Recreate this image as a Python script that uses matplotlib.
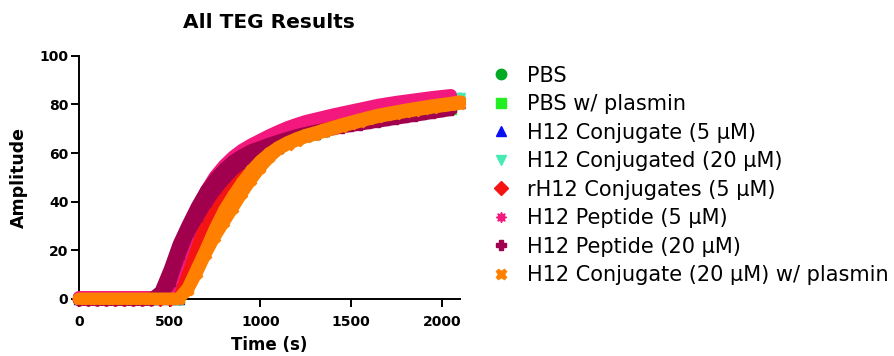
import numpy as np
import matplotlib.pyplot as plt
from matplotlib.lines import Line2D

plt.rcParams['font.family'] = ['DejaVu Sans']

# time points (s), one reading every 50 s
time_s = np.arange(0, 2101, 50)
nan = np.nan

# amplitude per reading (nan = run already stopped); two runs for the wide bands
pbs = [0] * 12 + [5.5, 14.5, 22.5, 30.5, 37.5, 43, 47.5, 51.5, 55.5,
                  59, 62, 64, 65.6, 67, 68, 69.2, 70.3, 71.4, 72.4,
                  73.4, 74.4, 75.3, 76, 76.7, 77.4, 78, 78.4, 78.6, 78.7, 78.6, nan]
pbs_plasmin = [0] * 12 + [5, 14, 22, 30, 37, 42.5, 47, 51, 55,
                          59, 62, 64, 65.6, 67, 68, 69.2, 70.3, 71.4, 72.4,
                          73.4, 74.4, 75.3, 76, 76.7, 77.4, 78, 78.3, 78.4, 78.4, 78.3, nan]
conj_5 = [0] * 12 + [6, 15, 22, 31, 38, 43.5, 48, 52, 55.8,
                     59, 62, 64, 65.6, 67, 68, 69.2, 70.3, 71.4, 72.4,
                     73.4, 74.4, 75.3, 76, 76.7, 77.4, 78, 78.6, 79.2, 79.7, 80.2, 80.8]
conj_20 = [0] * 12 + [5, 13.5, 21.5, 33, 40.5, 46, 50, 53.5, 56.5,
                      59, 62, 64, 65.6, 67, 68, 69.2, 70.3, 71.4, 72.4,
                      73.4, 74.4, 75.3, 76, 76.7, 77.4, 78, 78.6, 79.3, 80.3, 81.4, 82.5]
rconj_5 = [0] * 11 + [3, 13, 24, 32, 38.5, 44, 48.5, 52.5, 56.5, 60,
                      65.5, 67.2, 68.8, 70.1, 71.2, 72.1, 73, 73.9, 74.7, 75.5,
                      76.3, 77.1, 77.9, 78.5, 79.1, 79.6, 80.1, 80.6, 81.1, 81.5, 81.9, nan]
pep_5 = [0.7] * 10 + [4, 14, 25, 35, 44.5, 50.5, 55, 58.6, 61.4, 63.6, 65.5,
                      67.4, 69.1, 70.7, 72, 73.2, 74.1, 75, 75.9, 76.7, 77.5,
                      78.3, 79.1, 79.9, 80.5, 81.1, 81.6, 82.1, 82.6, 83.1, 83.5, 83.9, nan]
pep_20_a = [-0.5] * 8 + [0, 3, 12, 22.5, 30.5, 38, 44.5, 49.5, 53.5, 56.8, 59.2, 61.2, 62.5,
                         63.9, 65.1, 66.3, 67.4, 68.3, 69.1, 69.8, 70.5, 71.2, 71.8,
                         72.4, 73, 73.6, 74.2, 74.8, 75.4, 76, 76.6, 77.2, 77.8, 78.4, nan]
pep_20_b = [-0.5] * 9 + [1, 6, 17, 26.5, 33, 39, 44.5, 49, 53, 56, 58.5, 60.5,
                         62.3, 63.7, 65.1, 66.4, 67.5, 68.4, 69.1, 69.8, 70.5, 71.1,
                         71.7, 72.3, 72.9, 73.5, 74.1, 74.7, 75.3, 75.9, 76.5, 77.1, 77.7, nan]
conj_20_plasmin_a = [0] * 12 + [4.5, 12.5, 20.5, 29, 36.5, 42.5, 48, 52.8, 56.8,
                                60, 62.5, 64.5, 66.1, 67.5, 68.5, 69.7, 70.8, 71.9, 72.9,
                                73.9, 74.9, 75.8, 76.5, 77.2, 77.9, 78.5, 79.1, 79.7, 80.2, 80.7, 81.3]
conj_20_plasmin_b = [0] * 12 + [3.5, 10.5, 18.5, 25.5, 31.5, 37.5, 43.5, 49, 54,
                                58.2, 61.5, 63.5, 65.1, 66.5, 67.5, 68.7, 69.8, 70.9, 71.9,
                                72.9, 73.9, 74.8, 75.5, 76.2, 76.9, 77.5, 78.1, 78.7, 79.2, 79.7, 80.3]

labels = ['PBS', 'PBS w/ plasmin', 'H12 Conjugate (5 µM)', 'H12 Conjugated (20 µM)',
          'rH12 Conjugates (5 µM)', 'H12 Peptide (5 µM)', 'H12 Peptide (20 µM)',
          'H12 Conjugate (20 µM) w/ plasmin']
runs = [[pbs], [pbs_plasmin], [conj_5], [conj_20], [rconj_5], [pep_5],
        [pep_20_a, pep_20_b], [conj_20_plasmin_a, conj_20_plasmin_b]]
colors = ['#00AA22', '#22EE22', '#0A10F0', '#48EAB4', '#F41414', '#F2187E', '#A0004E', '#FF8000']
markers = ['o', 's', '^', 'v', 'D', (8, 1, 0), 'P', 'X']

fig = plt.figure(figsize=(8.95, 3.56), dpi=100)
ax = fig.add_axes([0.088, 0.161, 0.426, 0.682])

# dense readings merge into solid bands, so draw them as thick traces
for group, c, m in zip(runs, colors, markers):
    for vals in group:
        ax.plot(time_s, vals, color=c, lw=8.6, solid_capstyle='round', solid_joinstyle='round',
                marker=m, ms=7.5, mec=c, mfc=c, clip_on=False, zorder=3)

ax.set_xlim(0, 2100)
ax.set_ylim(0, 100)
ax.set_xticks([0, 500, 1000, 1500, 2000])
ax.set_yticks([0, 20, 40, 60, 80, 100])
for s in ['top', 'right']:
    ax.spines[s].set_visible(False)
for s in ['left', 'bottom']:
    ax.spines[s].set_linewidth(1.4)
ax.tick_params(direction='out', length=5.5, width=1.4, labelsize=10)
ax.tick_params(axis='x', pad=6.5)
ax.tick_params(axis='y', pad=2)
for lab in ax.get_xticklabels() + ax.get_yticklabels():
    lab.set_fontweight('bold')

ax.set_xlabel('Time (s)', fontsize=12, fontweight='bold', labelpad=5)
ax.set_ylabel('Amplitude', fontsize=12.5, fontweight='bold', labelpad=8)
ax.set_title('All TEG Results', fontsize=14.5, fontweight='bold', pad=20)

handles = [Line2D([], [], ls='', marker=m, color=c, ms=7.5) for c, m in zip(colors, markers)]
fig.legend(handles, labels, loc='upper left', bbox_to_anchor=(0.548, 0.816),
           frameon=False, fontsize=15, handlelength=1.0, handletextpad=0.75,
           labelspacing=0.41, borderaxespad=0, borderpad=0)

fig.savefig('out.png', dpi=100)
